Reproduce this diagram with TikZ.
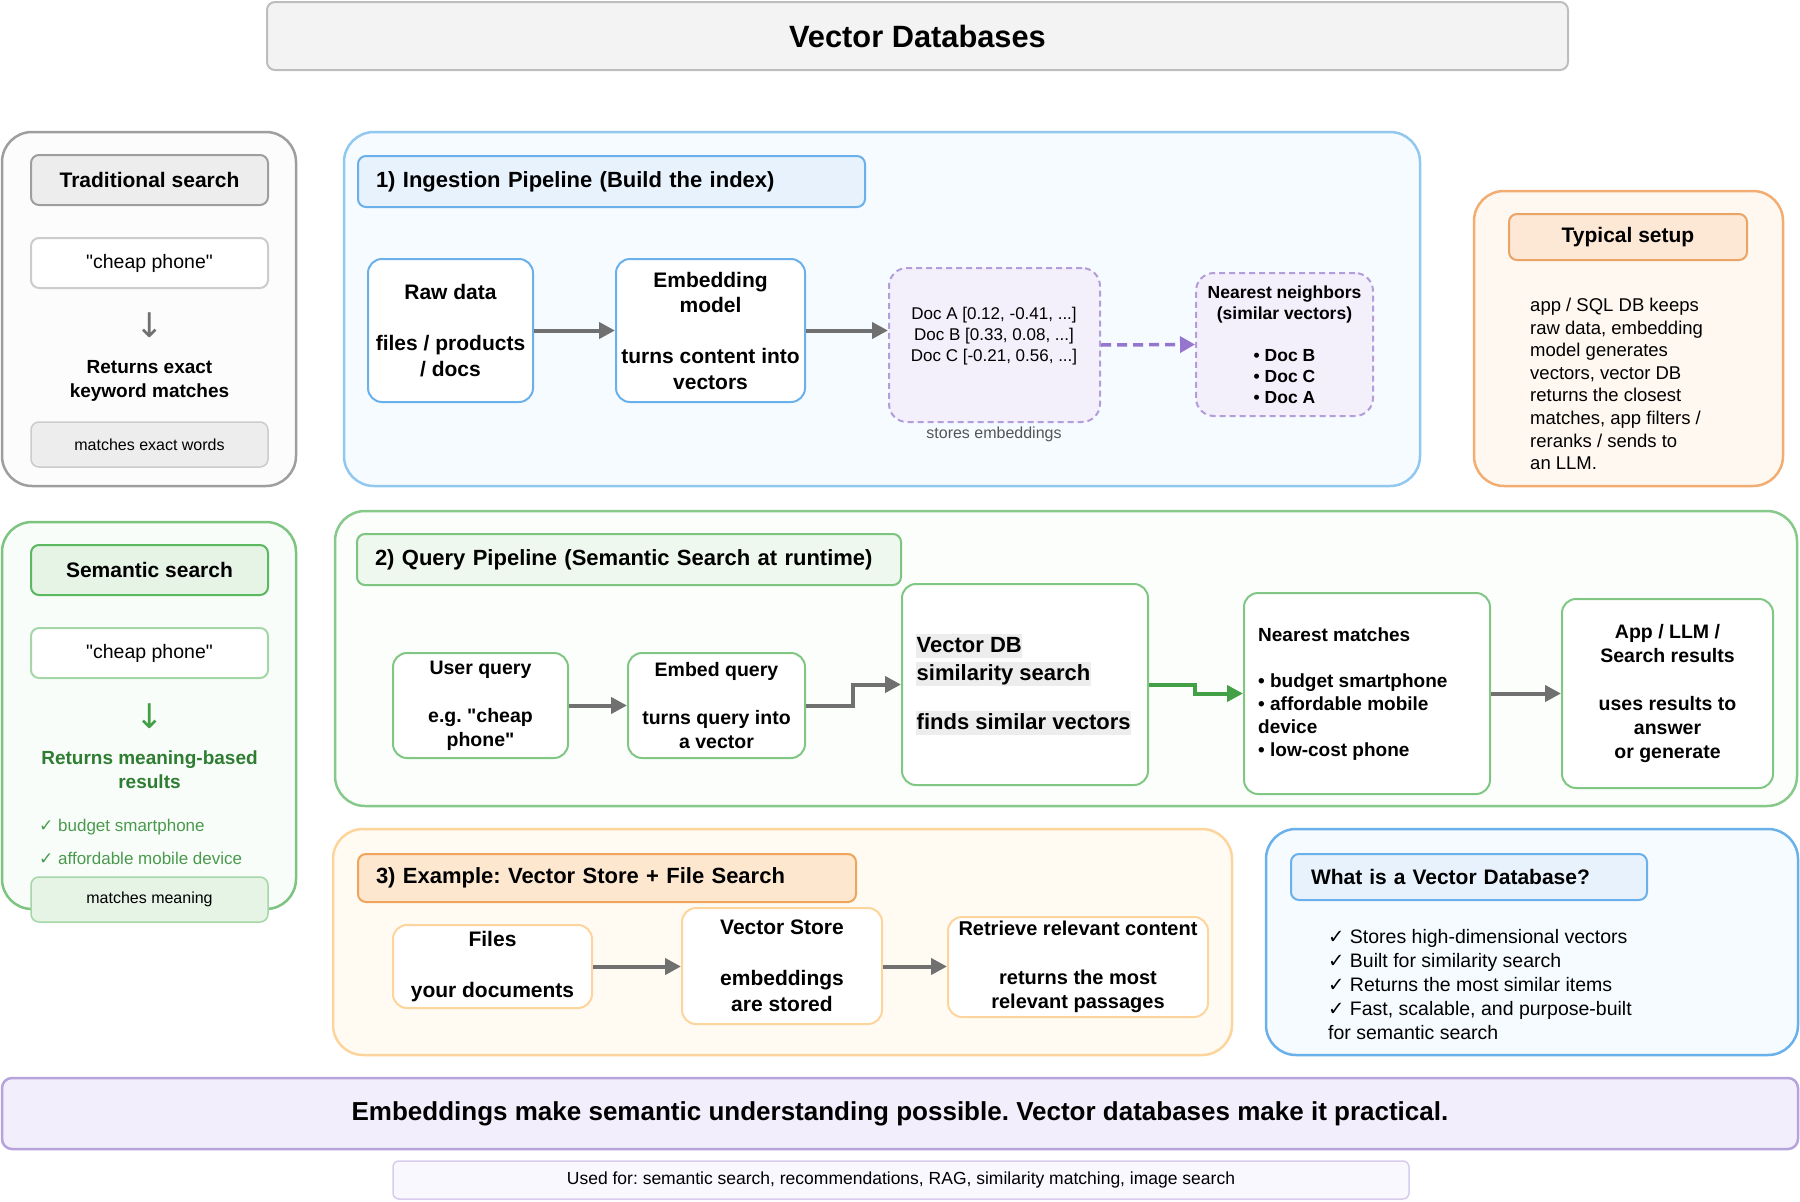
\documentclass[tikz,border=0pt]{standalone}
\usepackage{fontspec}
\setmainfont{Liberation Sans}[Ligatures=TeXOff]
\newfontfamily\dv{DejaVu Sans}
\usetikzlibrary{arrows.meta}
\frenchspacing
\newcommand\setfs[2]{\fontsize{#1}{#2}\selectfont}
\definecolor{titlefill}{HTML}{F3F3F3}
\definecolor{titleborder}{HTML}{BDBDBD}
\definecolor{tradborder}{HTML}{9E9E9E}
\definecolor{tradfill}{HTML}{FCFCFC}
\definecolor{tradhdr}{HTML}{EDEDED}
\definecolor{tradlight}{HTML}{CCCCCC}
\definecolor{semborder}{HTML}{7CC47F}
\definecolor{semfill}{HTML}{F9FDF9}
\definecolor{semhdr}{HTML}{E6F4E6}
\definecolor{semhdrborder}{HTML}{5CB860}
\definecolor{semlight}{HTML}{A5D6A7}
\definecolor{semtext}{HTML}{2E7D32}
\definecolor{semcheck}{HTML}{4A9A4E}
\definecolor{semarrow}{HTML}{43A047}
\definecolor{blueborder}{HTML}{90C8F0}
\definecolor{bluefill}{HTML}{F6FBFF}
\definecolor{bluehdr}{HTML}{E8F2FD}
\definecolor{bluestrong}{HTML}{6AB0EA}
\definecolor{purpfill}{HTML}{F3EFFB}
\definecolor{purpborder}{HTML}{B39DDB}
\definecolor{purparrow}{HTML}{9575CD}
\definecolor{orborder}{HTML}{F2AD73}
\definecolor{orfill}{HTML}{FFF8F0}
\definecolor{orhdr}{HTML}{FDE8D6}
\definecolor{orhdrborder}{HTML}{E9A466}
\definecolor{exborder}{HTML}{FDD49B}
\definecolor{exfill}{HTML}{FFFBF3}
\definecolor{exhdr}{HTML}{FDE7CF}
\definecolor{exhdrborder}{HTML}{F0A55C}
\definecolor{qborder}{HTML}{86C98A}
\definecolor{qfill}{HTML}{FBFEFB}
\definecolor{qhdr}{HTML}{EEF8EE}
\definecolor{qbox}{HTML}{81C784}
\definecolor{arrgray}{HTML}{707070}
\definecolor{hlgray}{HTML}{EDEDED}
\definecolor{bandfill}{HTML}{F2EEFC}
\definecolor{bandborder}{HTML}{B7A3DC}
\definecolor{usedfill}{HTML}{FAF8FF}
\definecolor{usedborder}{HTML}{D8CCEE}
\definecolor{labelgray}{HTML}{555555}
\tikzset{
  outer/.style={draw, line width=2.5pt, rounded corners=30pt, inner sep=0pt},
  inbox/.style={draw, fill=white, line width=2pt, rounded corners=14pt, align=center, inner sep=0pt},
  hdrl/.style={draw, line width=2pt, rounded corners=8pt, align=left, inner xsep=18pt, inner ysep=0pt, anchor=north west, font=\setfs{22}{26}\bfseries},
  hdrc/.style={draw, line width=2pt, rounded corners=8pt, inner sep=0pt, font=\setfs{21}{25}\bfseries},
  qline/.style={draw, fill=white, line width=2pt, rounded corners=8pt, inner sep=0pt, font=\setfs{19.5}{24}},
  tagbox/.style={draw, line width=1.5pt, rounded corners=8pt, inner sep=0pt, font=\setfs{16}{20}},
  dashbox/.style={draw=purpborder, fill=purpfill, line width=2pt, dash pattern=on 6pt off 4pt, rounded corners=18pt, inner sep=0pt},
  arr/.style={draw=arrgray, line width=4pt, -{Triangle[length=16pt,width=16pt]}},
  hl/.style={fill=hlgray, inner xsep=0.5pt, inner ysep=1pt, text height=17pt, text depth=5pt, anchor=west, font=\setfs{22}{28}\bfseries},
}
\begin{document}
\begin{tikzpicture}[x=1pt,y=-1pt]
\useasboundingbox (0,0) rectangle (1800,1202);

% Title
\node[draw=titleborder, fill=titlefill, line width=2pt, rounded corners=8pt, minimum width=1301pt, minimum height=68pt, inner sep=0pt, font=\setfs{30.8}{36}\bfseries] (title) at (917.5,36) {Vector Databases};

% Traditional search
\node[outer, draw=tradborder, fill=tradfill, minimum width=294pt, minimum height=354pt] (trad) at (149,309) {};
\node[hdrc, draw=tradborder, fill=tradhdr, minimum width=237pt, minimum height=50pt] (tradh) at (149.5,180) {Traditional search};
\node[qline, draw=tradlight, minimum width=237pt, minimum height=50pt] (tradq) at (149.5,263) {"cheap phone"};
\node[font=\dv\setfs{34}{38}, text=arrgray, inner sep=0pt] (tradarr) at (150,325) {↓};
\node[font=\setfs{19}{24}\bfseries, align=center] (tradres) at (149.5,381) {Returns exact\\keyword matches};
\node[tagbox, draw=tradlight, fill=tradhdr, minimum width=237pt, minimum height=45pt] (tradtag) at (149.5,444.5) {matches exact words};

% Semantic search
\node[outer, draw=semborder, fill=semfill, minimum width=294pt, minimum height=387pt] (sem) at (149,715.5) {};
\node[hdrc, draw=semhdrborder, fill=semhdr, minimum width=237pt, minimum height=50pt] (semh) at (149.5,570) {Semantic search};
\node[qline, draw=semlight, minimum width=237pt, minimum height=50pt] (semq) at (149.5,653) {"cheap phone"};
\node[font=\dv\setfs{34}{38}, text=semarrow, inner sep=0pt] (semarr) at (150,716) {↓};
\node[font=\setfs{19}{24}\bfseries, align=center, text=semtext] (semres) at (149.5,770) {Returns meaning-based\\results};
\node[font=\setfs{17}{20}, text=semcheck, anchor=west, inner sep=0pt] (semc1) at (39,827) {{\dv ✓} budget smartphone};
\node[font=\setfs{17}{20}, text=semcheck, anchor=west, inner sep=0pt] (semc2) at (39,858) {{\dv ✓} affordable mobile device};
\node[tagbox, draw=semlight, fill=semhdr, minimum width=237pt, minimum height=45pt] (semtag) at (149.5,899.5) {matches meaning};

% 1) Ingestion pipeline
\node[outer, draw=blueborder, fill=bluefill, minimum width=1076pt, minimum height=354pt] (ing) at (882,309) {};
\node[hdrl, draw=bluestrong, fill=bluehdr, text width=471pt, minimum height=51pt] (ingh) at (357,155) {1) Ingestion Pipeline (Build the index)};
\node[inbox, draw=bluestrong, minimum width=165pt, minimum height=143pt, font=\setfs{21}{25.5}\bfseries] (raw) at (450.5,330.5) {Raw data\\[25.5pt]files / products\\/ docs};
\node[inbox, draw=bluestrong, minimum width=189pt, minimum height=143pt, font=\setfs{21}{25.5}\bfseries] (emb) at (710.5,330.5) {Embedding\\model\\[25.5pt]turns content into\\vectors};
\node[dashbox, minimum width=211pt, minimum height=154pt] (docs) at (994.5,345) {};
\node[font=\setfs{17}{21}, align=center, inner sep=0pt] (docstext) at (994,336) {Doc A [0.12, -0.41, ...]\\Doc B [0.33, 0.08, ...]\\Doc C [-0.21, 0.56, ...]};
\node[font=\setfs{16}{20}, text=labelgray, inner sep=0pt] (storeslbl) at (994,434) {stores embeddings};
\node[dashbox, minimum width=177pt, minimum height=143pt, align=center, font=\setfs{17.5}{21}\bfseries] (nn) at (1284.5,344.5) {Nearest neighbors\\(similar vectors)\\[21pt]• Doc B\\• Doc C\\• Doc A};
\draw[arr] (raw.east) -- (emb.west);
\draw[arr] (emb.east) -- (docs.west |- emb.east);
\draw[draw=purparrow, line width=3.5pt, dash pattern=on 10pt off 6pt, -{Triangle[length=15pt,width=16pt]}] (docs.east) -- (nn.west);

% Typical setup
\node[outer, draw=orborder, fill=orfill, minimum width=309pt, minimum height=295pt] (typ) at (1628.5,338.5) {};
\node[hdrc, draw=orhdrborder, fill=orhdr, minimum width=238pt, minimum height=46pt] (typh) at (1628,237) {Typical setup};
\node[font=\setfs{18.5}{22.6}, align=left, anchor=west, inner sep=0pt] (typtext) at (1530,384) {app / SQL DB keeps\\raw data, embedding\\model generates\\vectors, vector DB\\returns the closest\\matches, app filters /\\reranks / sends to\\an LLM.};

% 2) Query pipeline
\node[outer, draw=qborder, fill=qfill, minimum width=1462pt, minimum height=295pt] (qp) at (1066,658.5) {};
\node[hdrl, draw=semborder, fill=qhdr, text width=508pt, minimum height=51pt] (qph) at (356,533) {2) Query Pipeline (Semantic Search at runtime)};
\node[inbox, draw=qbox, minimum width=175pt, minimum height=105pt, font=\setfs{19.5}{24}\bfseries] (uq) at (480.5,705.5) {User query\\[24pt]e.g. "cheap\\phone"};
\node[inbox, draw=qbox, minimum width=177pt, minimum height=105pt, font=\setfs{19.5}{24}\bfseries] (eq) at (716.5,705.5) {Embed query\\[24pt]turns query into\\a vector};
\node[inbox, draw=qbox, minimum width=246pt, minimum height=201pt] (vdb) at (1025,684.5) {};
\node[hl] (vdb1) at (916,646) {Vector DB};
\node[hl] (vdb2) at (916,674) {similarity search};
\node[hl] (vdb3) at (916,723) {finds similar vectors};
\node[inbox, draw=qbox, minimum width=246pt, minimum height=201pt] (nm) at (1367,693.5) {};
\node[font=\setfs{19}{23}\bfseries, align=left, anchor=west, inner sep=0pt] (nmtext) at (1258,694) {Nearest matches\\[23pt]• budget smartphone\\• affordable mobile\\device\\• low-cost phone};
\node[inbox, draw=qbox, minimum width=211pt, minimum height=189pt, font=\setfs{19.5}{24}\bfseries] (app) at (1667.5,693.5) {App / LLM /\\Search results\\[24pt]uses results to\\answer\\or generate};
\draw[arr] (uq.east) -- (eq.west);
\draw[arr] (eq.east) -- ++(47,0) |- (vdb.west);
\draw[arr, draw=semarrow] (vdb.east) -- ++(46,0) |- (nm.west);
\draw[arr] (nm.east) -- (app.west);

% 3) Example
\node[outer, draw=exborder, fill=exfill, minimum width=899pt, minimum height=226pt] (ex) at (782.5,942) {};
\node[hdrl, draw=exhdrborder, fill=exhdr, text width=462pt, minimum height=48pt] (exh) at (357,853) {3) Example: Vector Store + File Search};
\node[inbox, draw=exborder, minimum width=199pt, minimum height=83pt, font=\setfs{21}{25.5}\bfseries] (files) at (492.5,966.5) {Files\\[25.5pt]your documents};
\node[inbox, draw=exborder, minimum width=200pt, minimum height=116pt, font=\setfs{21}{25.5}\bfseries] (vs) at (782,966) {Vector Store\\[25.5pt]embeddings\\are stored};
\node[inbox, draw=exborder, minimum width=260pt, minimum height=100pt, font=\setfs{20}{24.5}\bfseries] (ret) at (1078,967) {Retrieve relevant content\\[24.5pt]returns the most\\relevant passages};
\draw[arr] (files.east) -- (vs.west |- files.east);
\draw[arr] (vs.east |- files.east) -- (ret.west |- files.east);

% What is a Vector Database
\node[outer, draw=bluestrong, fill=bluefill, minimum width=532pt, minimum height=226pt] (what) at (1532,942) {};
\node[hdrl, draw=bluestrong, fill=bluehdr, inner xsep=20pt, text width=316pt, minimum height=46pt, font=\setfs{21}{25}\bfseries] (whath) at (1290,853) {What is a Vector Database?};
\node[font=\setfs{19.5}{24}, align=left, anchor=west, inner sep=0pt] (whattext) at (1328,985) {{\dv ✓} Stores high-dimensional vectors\\{\dv ✓} Built for similarity search\\{\dv ✓} Returns the most similar items\\{\dv ✓} Fast, scalable, and purpose-built\\for semantic search};

% Bottom band
\node[draw=bandborder, fill=bandfill, line width=2.5pt, rounded corners=10pt, minimum width=1796pt, minimum height=71pt, inner sep=0pt, font=\setfs{26}{30}\bfseries] (band) at (900,1113.5) {Embeddings make semantic understanding possible. Vector databases make it practical.};
\node[draw=usedborder, fill=usedfill, line width=1.5pt, rounded corners=6pt, minimum width=1016pt, minimum height=38pt, inner sep=0pt, font=\setfs{17.5}{20}] (used) at (901,1180) {Used for: semantic search, recommendations, RAG, similarity matching, image search};
\end{tikzpicture}
\end{document}
